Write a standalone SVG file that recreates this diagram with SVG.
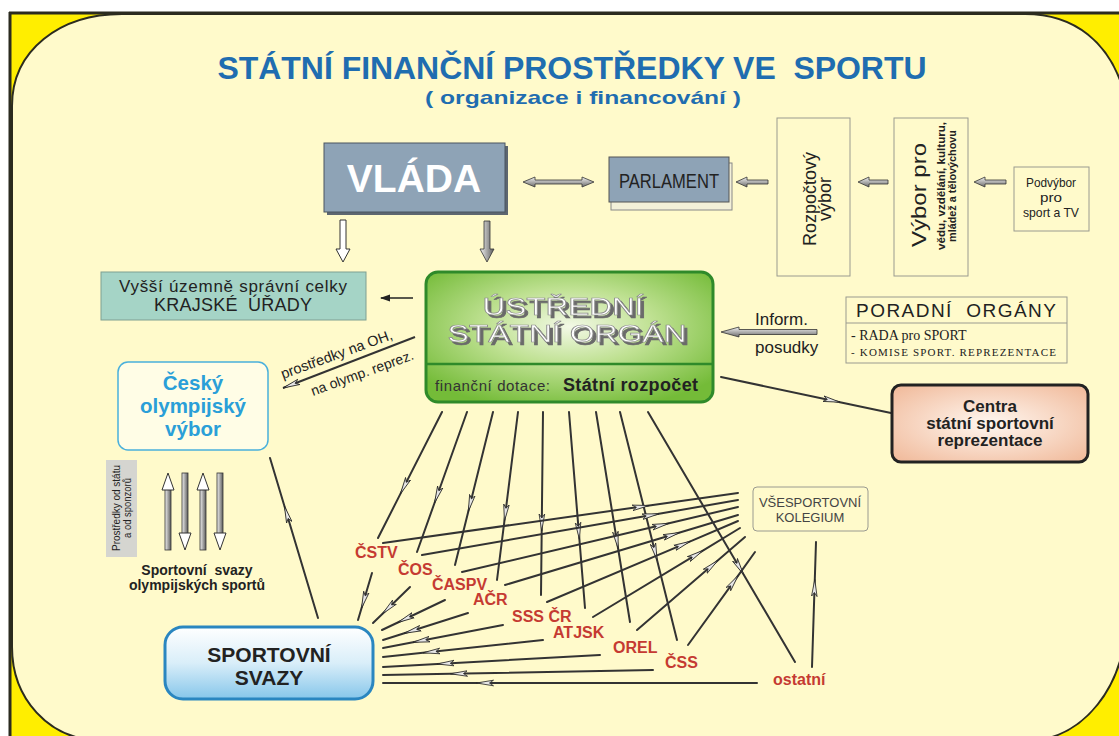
<svg xmlns="http://www.w3.org/2000/svg" width="1119" height="736" viewBox="0 0 1119 736">
<style>
text{font-family:"Liberation Sans",Arial,sans-serif;fill:#222}
.ttl{font-weight:bold;fill:#1f6db0}
.needle{fill:none;stroke:#333;stroke-width:2;stroke-linecap:round;marker-mid:url(#nh)}
.fat{fill:url(#shaftH);stroke:#333;stroke-width:0.8}
.fatv{fill:url(#shaftV);stroke:#333;stroke-width:0.8}
.hollow{fill:#fff;stroke:#333;stroke-width:1}
.org{font-weight:bold;font-size:16px;fill:#c53a32}
.wbox{fill:none;stroke:#9a9a90;stroke-width:1}
.serif{font-family:"Liberation Serif","Times New Roman",serif}
.outl{fill:#fff;stroke:#8a8a8a;stroke-width:0.7;filter:url(#ext)}
</style>
<defs>
<linearGradient id="shaftH" x1="0" y1="0" x2="0" y2="1"><stop offset="0" stop-color="#f2f2f2"/><stop offset="1" stop-color="#6c6c6c"/></linearGradient>
<linearGradient id="shaftV" x1="0" y1="0" x2="1" y2="0"><stop offset="0" stop-color="#f2f2f2"/><stop offset="1" stop-color="#5c5c5c"/></linearGradient>
<radialGradient id="green" cx="50%" cy="42%" r="65%"><stop offset="0" stop-color="#f3f9e6"/><stop offset="0.45" stop-color="#bfe192"/><stop offset="1" stop-color="#74bb38"/></radialGradient>
<linearGradient id="blue" x1="0" y1="0" x2="0" y2="1"><stop offset="0" stop-color="#ffffff"/><stop offset="0.5" stop-color="#d9eef9"/><stop offset="1" stop-color="#86c6ea"/></linearGradient>
<radialGradient id="peach" cx="50%" cy="50%" r="70%"><stop offset="0" stop-color="#fff7f0"/><stop offset="1" stop-color="#f0b898"/></radialGradient>
<filter id="ext" x="-5%" y="-20%" width="115%" height="150%">
<feOffset in="SourceAlpha" dx="2.5" dy="2.5" result="off"/>
<feFlood flood-color="#6a6a6a" result="col"/>
<feComposite in="col" in2="off" operator="in" result="sh"/>
<feMerge><feMergeNode in="sh"/><feMergeNode in="SourceGraphic"/></feMerge>
</filter>
<marker id="nh" viewBox="0 0 18 8" markerWidth="18" markerHeight="8" refX="17" refY="4" orient="auto" markerUnits="userSpaceOnUse"><path d="M0,1.2 L17,4 L0,6.8 L4,4 Z" fill="#e6e6e6" stroke="#222" stroke-width="0.8"/></marker>
<marker id="th" viewBox="0 0 10 8" markerWidth="10" markerHeight="8" refX="9" refY="4" orient="auto" markerUnits="userSpaceOnUse"><path d="M0,0.5 L10,4 L0,7.5 Z" fill="#222"/></marker>
</defs>

<g id="background">
<rect x="0" y="0" width="1119" height="736" fill="#ffffff"/>
<rect x="10" y="13" width="1109" height="723" fill="#ffee00"/>
<path d="M12,106 C12,50 60,14 122,14 L1025,14 C1072,14 1112,40 1126,100 L1126,630 C1120,690 1085,732 1040,740 L95,740 C50,738 12,700 12,647 Z" fill="#fffacb" stroke="#2b2b1f" stroke-width="2"/>
<line x1="9" y1="13" x2="1119" y2="13" stroke="#2b2b1f" stroke-width="3"/>
<line x1="10" y1="12" x2="10" y2="736" stroke="#2b2b1f" stroke-width="3"/>
</g>

<g id="title">
<text x="572" y="79" font-size="32" class="ttl" text-anchor="middle" textLength="709" xml:space="preserve">STÁTNÍ FINANČNÍ PROSTŘEDKY VE  SPORTU</text>
<text x="583" y="104" font-size="19" class="ttl" text-anchor="middle" textLength="316" lengthAdjust="spacingAndGlyphs">( organizace i financování )</text>
</g>

<g id="connectors">
<polygon class="fat" points="523,182 535,177 535,180 582,180 582,177 594,182 582,187 582,184 535,184 535,187"/>
<polygon class="fat" points="736,182 747,177 747,180 768,180 768,184 747,184 747,187"/>
<polygon class="fat" points="858,182 869,177 869,180 888,180 888,184 869,184 869,187"/>
<polygon class="fat" points="974,182 985,177 985,180 1006,180 1006,184 985,184 985,187"/>
<polygon class="hollow" points="340,220 346,220 346,249 350,249 343,262 336,249 340,249"/>
<polygon class="fatv" points="484,221 490,221 490,249 494,249 487,262 480,249 484,249"/>
<line x1="413" y1="298" x2="381" y2="298" stroke="#222" stroke-width="1.5" marker-end="url(#th)"/>
<polygon class="fat" points="721,332 739,327 739,329.5 817,329.5 817,334.5 739,334.5 739,337"/>
<path class="needle" d="M721,377 L840,402.2 L891,413"/>
<path d="M415,337 L283,388" fill="none" stroke="#333" stroke-width="2" marker-end="url(#nh)"/>
<path class="needle" d="M318,618 L284.4,506 L270,458"/>
<rect class="fatv" x="165" y="489" width="6" height="61"/><polygon class="hollow" points="168,473 174,490 162,490"/>
<rect class="fatv" x="182" y="473" width="6" height="61"/><polygon class="hollow" points="185,550 191,533 179,533"/>
<rect class="fatv" x="200" y="489" width="6" height="61"/><polygon class="hollow" points="203,473 209,490 197,490"/>
<rect class="fatv" x="217" y="473" width="6" height="61"/><polygon class="hollow" points="220,550 226,533 214,533"/>
<path class="needle" d="M442,412 L400.4,493.9 L378,538"/>
<path class="needle" d="M467,412 L434.5,503 L417,552"/>
<path class="needle" d="M493,412 L468.3,511.5 L455,565"/>
<path class="needle" d="M518,412 L504.4,521.2 L497,580"/>
<path class="needle" d="M543,412 L541.7,531 L541,595"/>
<path class="needle" d="M569,412 L579.4,539.4 L585,608"/>
<path class="needle" d="M596,412 L618.1,548.5 L630,622"/>
<path class="needle" d="M620,412 L657.1,560.2 L677,640"/>
<path class="needle" d="M648,412 L743.6,574.5 L795,662"/>
<path class="needle" d="M383,543 L649.3,505.5 L738,493"/>
<path class="needle" d="M422,555 L659,513.8 L738,500"/>
<path class="needle" d="M462,572 L669,523.3 L738,507"/>
<path class="needle" d="M505,585 L679.8,532.5 L738,515"/>
<path class="needle" d="M547,602 L690.3,541.3 L738,521"/>
<path class="needle" d="M593,617 L703.3,550.3 L740,528"/>
<path class="needle" d="M637,630 L718,560.3 L745,537"/>
<path class="needle" d="M688,645 L738.3,575.3 L755,552"/>
<path class="needle" d="M812,667 L814.8,579.5 L816,542"/>
<path class="needle" d="M372,573 L361.5,608.3 L358,620"/>
<path class="needle" d="M410,587 L382.3,614 L373,623"/>
<path class="needle" d="M445,600 L397.8,622.5 L382,630"/>
<path class="needle" d="M468,613 L404.3,633.3 L383,640"/>
<path class="needle" d="M503,625 L413,642.3 L383,648"/>
<path class="needle" d="M543,640 L423,652.8 L383,657"/>
<path class="needle" d="M600,655 L437.3,664 L383,667"/>
<path class="needle" d="M653,670 L450.5,673.8 L383,675"/>
<path class="needle" d="M757,683 L476.5,683 L383,683"/>
</g>

<g id="vlada">
<rect x="327" y="146" width="181" height="69" fill="#5d6670"/>
<rect x="324" y="143" width="181" height="69" fill="#8ea3b6" stroke="#4a5560"/>
<text x="414" y="192" font-size="39" font-weight="bold" text-anchor="middle" style="fill:#fff">VLÁDA</text>
</g>

<g id="parlament">
<rect x="611" y="163" width="121" height="47" fill="#f3f0d8" stroke="#888"/>
<rect x="609" y="157" width="120" height="45" fill="#8ea3b6" stroke="#555"/>
<text x="669" y="188" font-size="20" text-anchor="middle" textLength="100" lengthAdjust="spacingAndGlyphs">PARLAMENT</text>
</g>

<g id="rozpoctovy-vybor">
<rect class="wbox" x="777" y="118" width="73" height="158"/>
<text transform="translate(816,199) rotate(-90)" font-size="18" text-anchor="middle">Rozpočtový</text>
<text transform="translate(831,199) rotate(-90)" font-size="18" text-anchor="middle">výbor</text>
</g>

<g id="vybor-pro">
<rect class="wbox" x="894" y="118" width="74" height="158"/>
<text transform="translate(926,195) rotate(-90)" font-size="21" text-anchor="middle" textLength="104" lengthAdjust="spacingAndGlyphs">Výbor pro</text>
<text transform="translate(945,186) rotate(-90)" font-size="11" font-weight="bold" text-anchor="middle" textLength="128" lengthAdjust="spacingAndGlyphs">vědu, vzdělání, kulturu,</text>
<text transform="translate(956,186) rotate(-90)" font-size="11" font-weight="bold" text-anchor="middle" textLength="112" lengthAdjust="spacingAndGlyphs">mládež a tělovýchovu</text>
</g>

<g id="podvybor">
<rect class="wbox" x="1014" y="167" width="75" height="64"/>
<text x="1051" y="187" font-size="13" text-anchor="middle" textLength="50" lengthAdjust="spacingAndGlyphs">Podvýbor</text>
<text x="1051" y="202" font-size="13" text-anchor="middle" textLength="22" lengthAdjust="spacingAndGlyphs">pro</text>
<text x="1051" y="217" font-size="13" text-anchor="middle" textLength="56" lengthAdjust="spacingAndGlyphs">sport a TV</text>
</g>

<g id="krajske-urady">
<rect x="101" y="272" width="265" height="48" fill="#a5d4c6" stroke="#7f9f92"/>
<text x="233" y="292" font-size="17" text-anchor="middle" textLength="228">Vyšší územně správní celky</text>
<text x="233" y="311" font-size="18" text-anchor="middle" textLength="158" xml:space="preserve">KRAJSKÉ  ÚŘADY</text>
</g>

<g id="ustredni-organ">
<rect x="426" y="272" width="287" height="130" rx="12" fill="url(#green)" stroke="#2f8a2a" stroke-width="3"/>
<line x1="427" y1="364" x2="712" y2="364" stroke="#2f8a2a" stroke-width="2.5"/>
<text class="outl" x="563" y="315" font-size="24" text-anchor="middle" textLength="161" lengthAdjust="spacingAndGlyphs">ÚSTŘEDNÍ</text>
<text class="outl" x="567" y="342" font-size="24" text-anchor="middle" textLength="239" lengthAdjust="spacingAndGlyphs">STÁTNÍ ORGÁN</text>
<text x="435" y="391" font-size="15" textLength="115" style="fill:#333">finanční dotace:</text>
<text x="563" y="391" font-size="18" font-weight="bold" textLength="135">Státní rozpočet</text>
</g>

<g id="inform-posudky">
<text x="755" y="325" font-size="17">Inform.</text>
<text x="755" y="353" font-size="17">posudky</text>
</g>

<g id="poradni-organy">
<rect class="wbox" x="846" y="297" width="221" height="66"/>
<line x1="846" y1="323" x2="1067" y2="323" stroke="#9a9a90" stroke-width="1"/>
<text x="956" y="317" font-size="19" text-anchor="middle" textLength="200" xml:space="preserve">PORADNÍ  ORGÁNY</text>
<text class="serif" x="851" y="340" font-size="14">- RADA pro SPORT</text>
<text class="serif" x="851" y="356" font-size="11" textLength="205">- KOMISE SPORT. REPREZENTACE</text>
</g>

<g id="centra">
<rect x="892" y="385" width="196" height="77" rx="9" fill="url(#peach)" stroke="#222" stroke-width="3"/>
<text x="990" y="412" font-size="17" font-weight="bold" text-anchor="middle">Centra</text>
<text x="990" y="429" font-size="17" font-weight="bold" text-anchor="middle">státní sportovní</text>
<text x="990" y="446" font-size="17" font-weight="bold" text-anchor="middle">reprezentace</text>
</g>

<g id="prostredky-oh">
<text transform="translate(283,379) rotate(-20)" font-size="14.5">prostředky na OH,</text>
<text transform="translate(313,396) rotate(-20)" font-size="14">na olymp. reprez.</text>
</g>

<g id="cesky-olympijsky-vybor">
<rect x="118" y="362" width="150" height="88" rx="10" fill="#fffde6" stroke="#4ab0dc" stroke-width="1.5"/>
<text x="193" y="390" font-size="20.5" font-weight="bold" text-anchor="middle" style="fill:#2a9fd8">Český</text>
<text x="193" y="413" font-size="20.5" font-weight="bold" text-anchor="middle" style="fill:#2a9fd8">olympijský</text>
<text x="193" y="436" font-size="20.5" font-weight="bold" text-anchor="middle" style="fill:#2a9fd8">výbor</text>
</g>

<g id="prostredky-od-statu">
<rect x="106" y="460" width="31" height="97" fill="#d5d5d0"/>
<text transform="translate(120,508) rotate(-90)" font-size="10" text-anchor="middle" textLength="86" lengthAdjust="spacingAndGlyphs">Prostředky od státu</text>
<text transform="translate(131,508) rotate(-90)" font-size="10" text-anchor="middle" textLength="60" lengthAdjust="spacingAndGlyphs">a od sponzorů</text>
</g>

<g id="svazy-olympijskych-sportu">
<text x="197" y="575" font-size="14" font-weight="bold" text-anchor="middle" xml:space="preserve">Sportovní  svazy</text>
<text x="197" y="590" font-size="14" font-weight="bold" text-anchor="middle">olympijských sportů</text>
</g>

<g id="sportovni-svazy">
<rect x="165" y="627" width="208" height="72" rx="18" fill="url(#blue)" stroke="#2a86c0" stroke-width="3"/>
<text x="269" y="662" font-size="21" font-weight="bold" text-anchor="middle">SPORTOVNÍ</text>
<text x="269" y="685" font-size="21" font-weight="bold" text-anchor="middle">SVAZY</text>
</g>

<g id="vsesportovni-kolegium">
<rect x="753" y="487" width="115" height="44" rx="4" class="wbox"/>
<text x="810" y="507" font-size="13" text-anchor="middle" style="fill:#444">VŠESPORTOVNÍ</text>
<text x="810" y="522" font-size="13" text-anchor="middle" style="fill:#444">KOLEGIUM</text>
</g>

<g id="cstv"><text class="org" x="355" y="558">ČSTV</text></g>
<g id="cos"><text class="org" x="398" y="575">ČOS</text></g>
<g id="caspv"><text class="org" x="432" y="590">ČASPV</text></g>
<g id="acr"><text class="org" x="473" y="605">AČR</text></g>
<g id="sss-cr"><text class="org" x="512" y="622">SSS ČR</text></g>
<g id="atjsk"><text class="org" x="553" y="638">ATJSK</text></g>
<g id="orel"><text class="org" x="613" y="653">OREL</text></g>
<g id="css"><text class="org" x="665" y="668">ČSS</text></g>
<g id="ostatni"><text class="org" x="773" y="685">ostatní</text></g>
</svg>
